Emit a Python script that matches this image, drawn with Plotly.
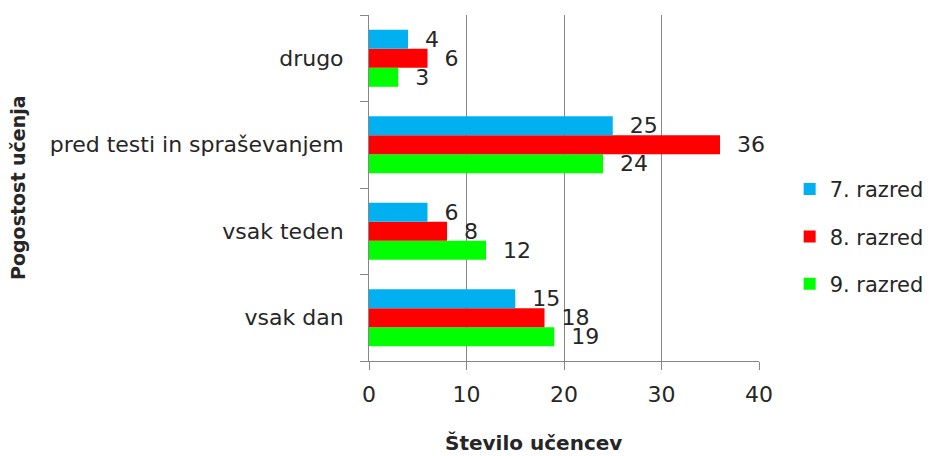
import plotly.graph_objects as go

categories = ["vsak dan", "vsak teden", "pred testi in spraševanjem", "drugo"]
series_names = ["7. razred", "8. razred", "9. razred"]
razred_7 = [15, 6, 25, 4]
razred_8 = [18, 8, 36, 6]
razred_9 = [19, 12, 24, 3]
x_ticks = [0, 10, 20, 30, 40]

colors = {"7. razred": "#00B0F0", "8. razred": "#FF0000", "9. razred": "#00FF00"}
values = {"7. razred": razred_7, "8. razred": razred_8, "9. razred": razred_9}

FONT = "DejaVu Sans"
TXT = "#262626"
GRID = "#868686"

fig = go.Figure()
# plotly stacks horizontal groups bottom-up, so add 9. razred first
for name in reversed(series_names):
    fig.add_trace(
        go.Bar(
            y=categories,
            x=values[name],
            name=name,
            orientation="h",
            marker={"color": colors[name], "line": {"width": 0}},
            text=values[name],
            texttemplate="\u00a0\u00a0%{x}",
            textposition="outside",
            constraintext="none",
            textfont={"size": 22, "color": TXT, "family": FONT},
            cliponaxis=False,
            legendgroup=name,
            legendrank=series_names.index(name) + 1,
        )
    )

# page body has an 8px margin, so the figure is a bit smaller than the window
fig.update_layout(
    width=931,
    height=448,
    barmode="group",
    bargap=0.34,
    bargroupgap=0,
    plot_bgcolor="white",
    paper_bgcolor="white",
    font={"family": FONT, "size": 22, "color": TXT},
    margin={"l": 361, "r": 180, "t": 7, "b": 95},
    legend={
        "x": 1.435,
        "y": 0.36,
        "xanchor": "right",
        "yanchor": "middle",
        "traceorder": "grouped",
        "tracegroupgap": 17,
        "font": {"size": 21},
        "itemwidth": 30,
    },
    showlegend=True,
)

fig.add_annotation(
    text="<b>Pogostost učenja</b>",
    xref="paper",
    yref="paper",
    x=(10 - 361) / 390,
    y=0.5,
    xanchor="center",
    yanchor="middle",
    textangle=-90,
    showarrow=False,
    font={"size": 19, "color": TXT},
)

fig.add_annotation(
    text="<b>Število učencev</b>",
    xref="paper",
    yref="paper",
    x=0.423,
    y=-(443 - 15 - 346) / 346,
    xanchor="center",
    yanchor="middle",
    showarrow=False,
    font={"size": 20, "color": TXT},
)

fig.update_xaxes(
    range=[0, 40],
    tickvals=x_ticks,
    showgrid=True,
    gridcolor=GRID,
    gridwidth=1,
    showline=True,
    linecolor=GRID,
    ticks="outside",
    ticklen=8,
    tickcolor=GRID,
    zeroline=False,
    automargin=False,
    ticklabelstandoff=6,
)

fig.update_yaxes(
    type="category",
    categoryorder="array",
    categoryarray=categories,
    showline=True,
    linecolor=GRID,
    ticks="outside",
    tickson="boundaries",
    ticklen=8,
    tickcolor=GRID,
    showgrid=False,
    automargin=False,
    ticklabelstandoff=20,
)

fig.write_html("out.html")
